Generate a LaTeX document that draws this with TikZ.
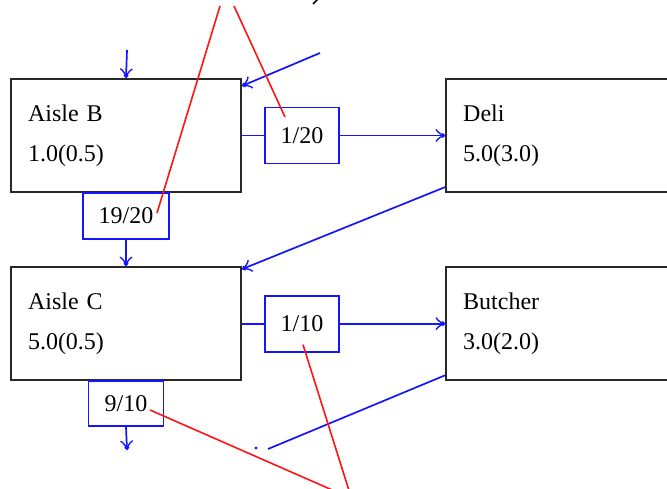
\documentclass[tikz,border=0pt]{standalone}
\usepackage{fontspec}
\setmainfont{Liberation Serif}
\usetikzlibrary{positioning,arrows.meta}
\definecolor{flowblue}{RGB}{20,20,255}
\definecolor{notered}{RGB}{255,20,20}
\definecolor{boxgray}{RGB}{40,40,40}

\tikzset{
  station/.style={draw=boxgray, line width=2.2pt, rectangle, minimum height=113pt,
    text width=196pt, inner xsep=17pt, align=left,
    font=\fontsize{24}{40}\selectfont},
  ratio/.style={draw=flowblue, line width=1.8pt, rectangle, inner sep=0pt,
    font=\fontsize{24}{26}\selectfont},
  flow/.style={flowblue, line width=1.7pt,
    -{Classical TikZ Rightarrow[length=9pt,width=13pt,sep=-4pt]Circle[length=4.5pt]}},
  link/.style={flowblue, line width=1.7pt},
  note/.style={notered, line width=1.6pt}
}

\begin{document}
\begin{tikzpicture}[x=1pt, y=-1pt]
\clip (0,0) rectangle (667,489);
\useasboundingbox (0,0) rectangle (667,489);

% stations
\node[station] (aisleB) at (126,135.5) {Aisle B\\1.0(0.5)};
\node[station, right=203pt of aisleB] (deli) {Deli\\5.0(3.0)};
\node[station, below=73pt of aisleB] (aisleC) {Aisle C\\5.0(0.5)};
\node[station, right=203pt of aisleC] (butcher) {Butcher\\3.0(2.0)};

% branch fractions
\node[ratio, minimum width=74pt, minimum height=56pt, right=22pt of aisleB] (bDeli) {1/20};
\node[ratio, minimum width=86pt, minimum height=46pt, below=-1.1pt of aisleB] (bStay) {19/20};
\node[ratio, minimum width=74pt, minimum height=56pt, right=22pt of aisleC] (cButcher) {1/10};
\node[ratio, minimum width=75pt, minimum height=45pt, below=-1.1pt of aisleC] (cStay) {9/10};

% loose ends
\coordinate (entry) at (127,50);
\coordinate (exit) at (127,450);
\coordinate (back) at (320,53);
\coordinate (butcherEnd) at (268,449);

% flows
\draw[flow] (entry) -- (aisleB.north);
\draw[link] (aisleB.east) -- (bDeli.west);
\draw[flow] (bDeli.east) -- (deli.west);
\draw[flow] (bStay.south) -- (aisleC.north);
\draw[link] (aisleC.east) -- (cButcher.west);
\draw[flow] (cButcher.east) -- (butcher.west);
\draw[flow] (cStay.south) -- (exit);
\draw[flow] (back) -- ([yshift=-8pt]aisleB.north east);
\draw[flow] ([yshift=6pt]deli.south west) -- ([yshift=-3pt]aisleC.north east);
\draw[link] ([yshift=6pt]butcher.south west) -- (butcherEnd);
\fill[flowblue] (256,448) circle (1.7pt);

% callout lines
\coordinate (callA) at (220,6);
\coordinate (callB) at (234,6);
\coordinate (callC) at (352,500);
\coordinate (callD) at (355,500);
\draw[note] (callA) -- (157,213);
\draw[note] (callB) -- (285,117);
\draw[note] (cButcher.south) ++(1,-8) -- (callC);
\draw[note] (150,410) -- (callD);

% stray stroke at the top edge
\draw[black, line width=1.6pt] (313,4) -- (318,-1);
\end{tikzpicture}
\end{document}
